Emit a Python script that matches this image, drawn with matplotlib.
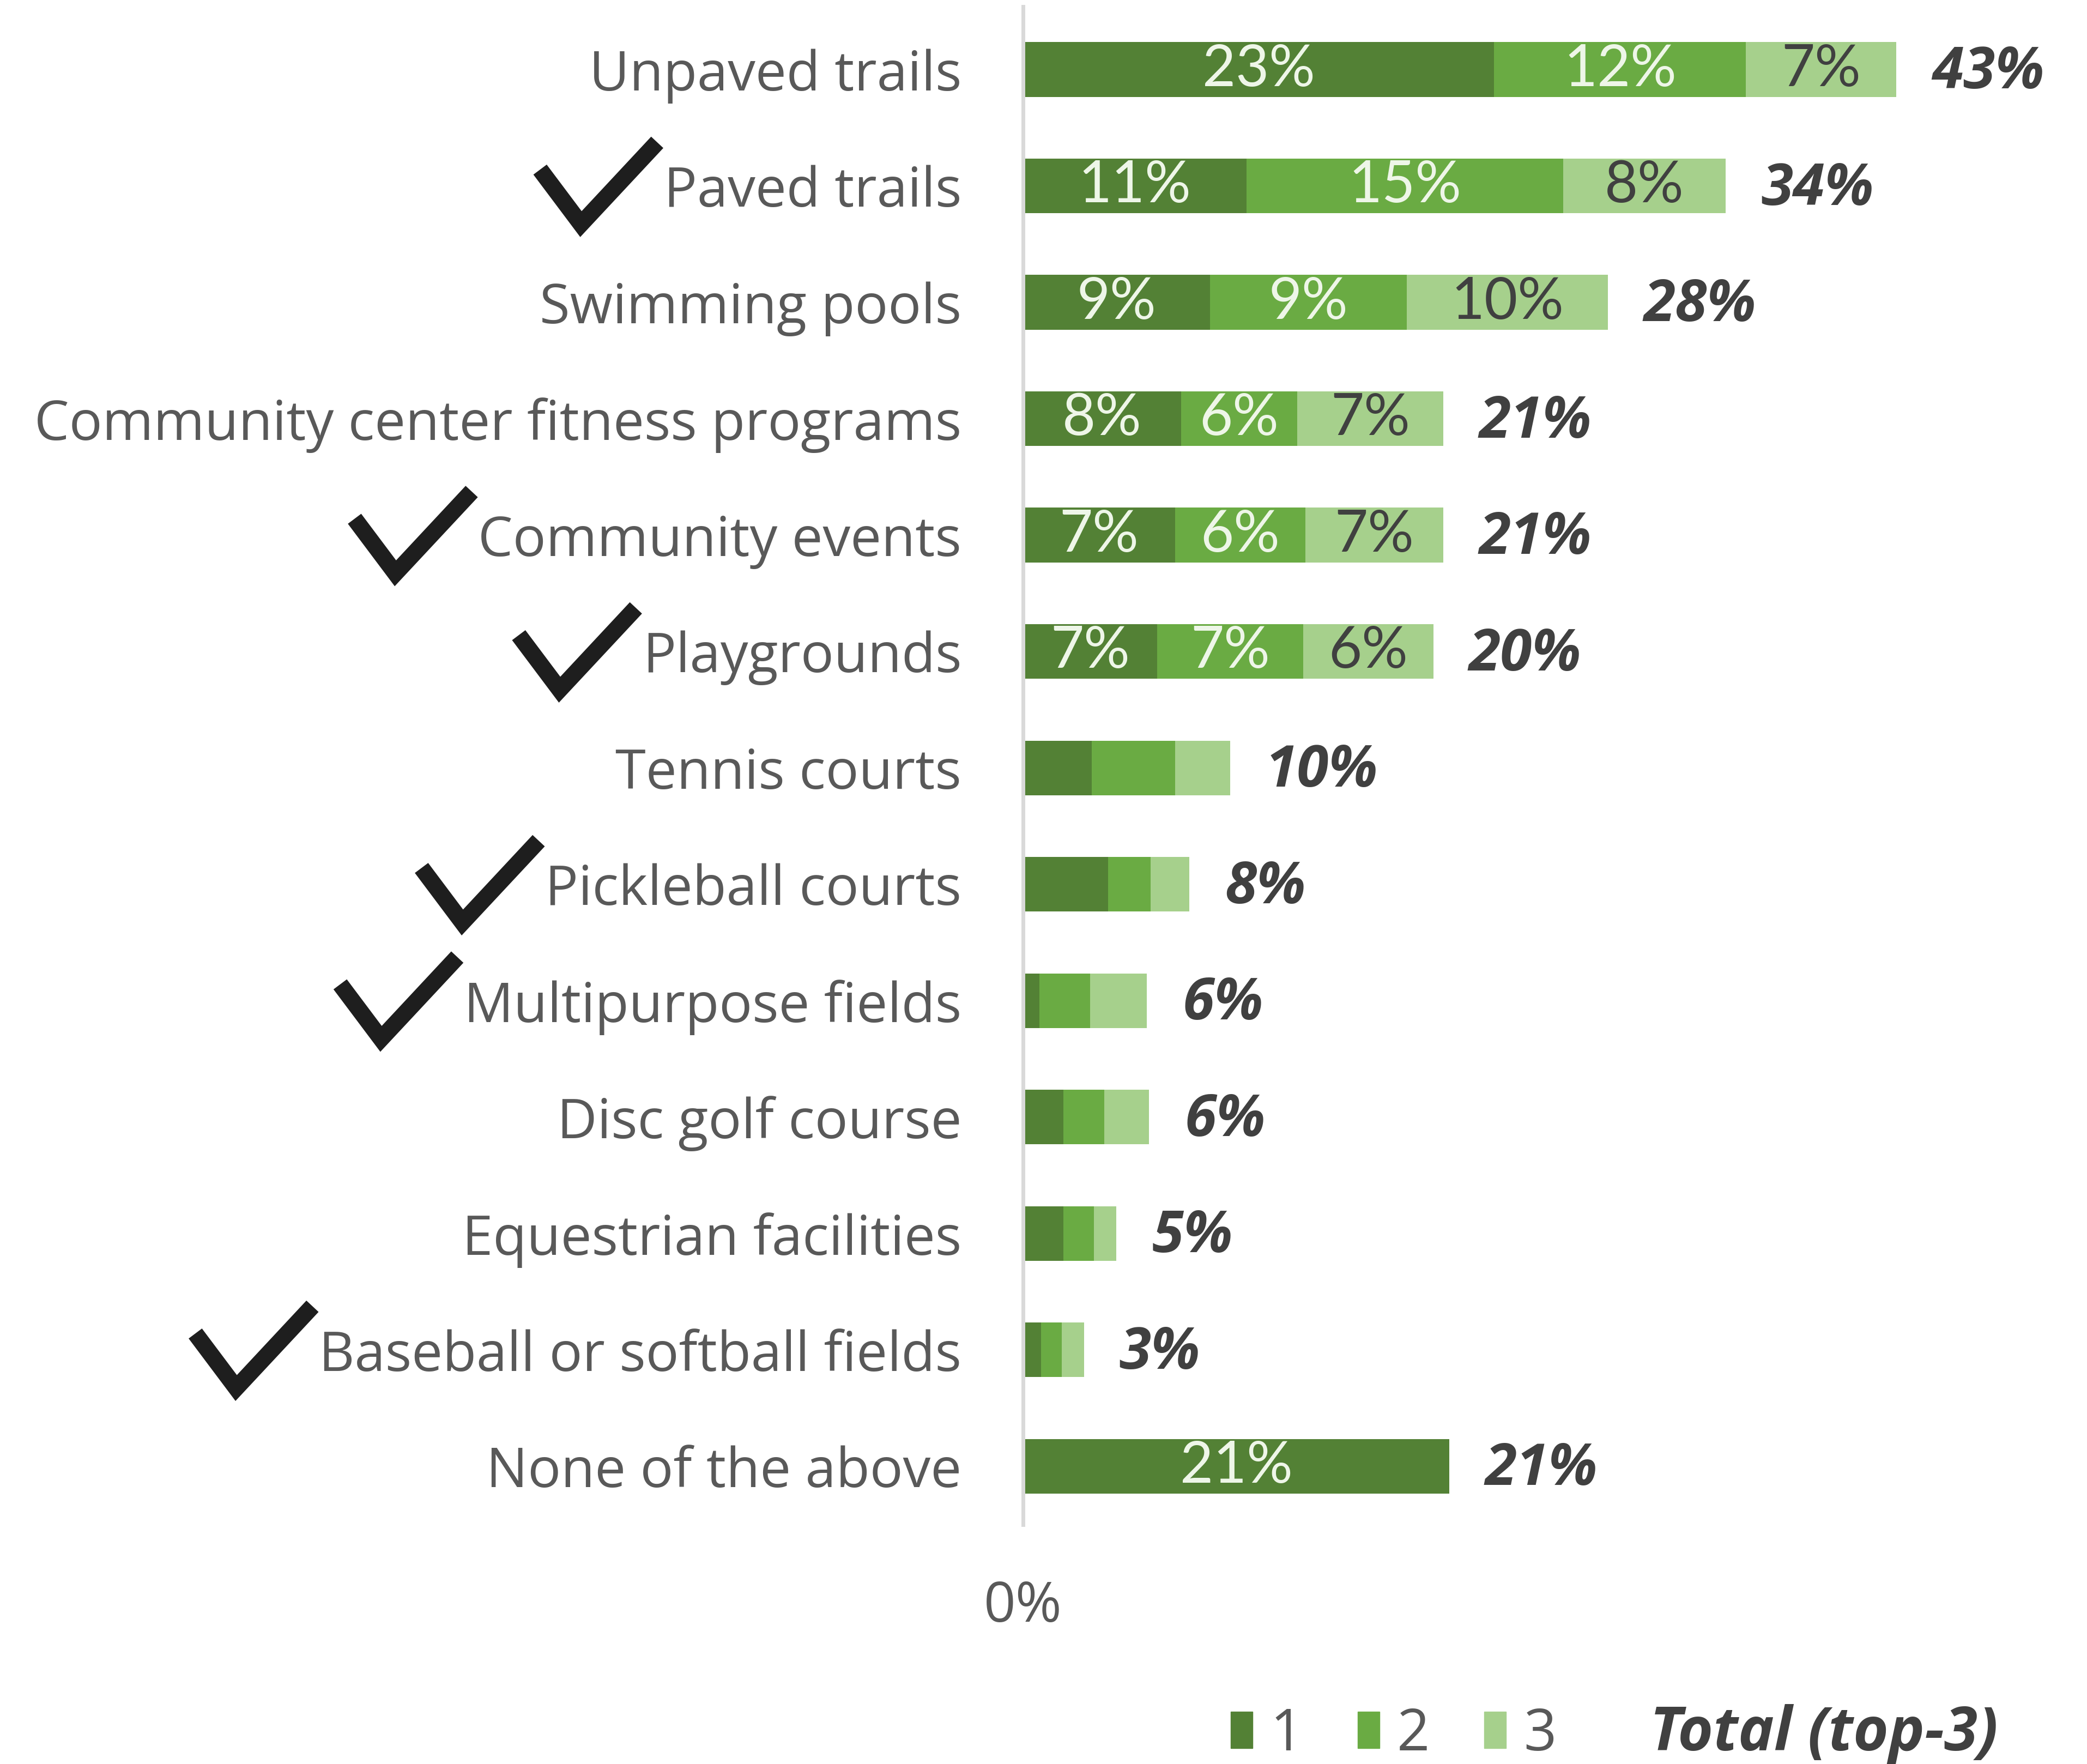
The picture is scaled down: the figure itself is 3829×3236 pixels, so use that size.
import matplotlib
matplotlib.use('Agg')
import matplotlib.pyplot as plt
from matplotlib.patches import Patch
from matplotlib.lines import Line2D

plt.rcParams['font.family'] = ['Open Sans', 'DejaVu Sans']

# data (percent of respondents, top-3 ranking)
categories = ['Unpaved trails', 'Paved trails', 'Swimming pools',
              'Community center fitness programs', 'Community events',
              'Playgrounds', 'Tennis courts', 'Pickleball courts',
              'Multipurpose fields', 'Disc golf course',
              'Equestrian facilities', 'Baseball or softball fields',
              'None of the above']
rank1 = [23.2, 11.0, 9.2, 7.8, 7.5, 6.6, 3.4, 4.2, 0.8, 2.0, 2.0, 0.9, 21.0]
rank2 = [12.4, 15.6, 9.7, 5.7, 6.4, 7.2, 4.1, 2.1, 2.5, 2.0, 1.5, 1.0, 0.0]
rank3 = [7.4, 8.0, 9.9, 7.2, 6.8, 6.4, 2.7, 1.9, 2.8, 2.2, 1.1, 1.1, 0.0]
rank1_labels = ['23%', '11%', '9%', '8%', '7%', '7%', '', '', '', '', '', '', '21%']
rank2_labels = ['12%', '15%', '9%', '6%', '6%', '7%', '', '', '', '', '', '', '']
rank3_labels = ['7%', '8%', '10%', '7%', '7%', '6%', '', '', '', '', '', '', '']
total_labels = ['43%', '34%', '28%', '21%', '21%', '20%', '10%', '8%', '6%',
                '6%', '5%', '3%', '21%']
checked = ['Paved trails', 'Community events', 'Playgrounds',
           'Pickleball courts', 'Multipurpose fields',
           'Baseball or softball fields']

c1, c2, c3 = '#538135', '#6aab43', '#a6d08c'
grey = '#595959'

fig = plt.figure(figsize=(38.3, 32.36), dpi=100)
ax = fig.add_axes([0.490, 0.1358, 0.506, 0.8604])

y = list(range(len(categories)))
bar_h = 0.47
left2 = [a for a in rank1]
left3 = [a + b for a, b in zip(rank1, rank2)]
ends = [a + b + c for a, b, c in zip(rank1, rank2, rank3)]

b1 = ax.barh(y, rank1, height=bar_h, color=c1, label='1')
b2 = ax.barh(y, rank2, left=left2, height=bar_h, color=c2, label='2')
b3 = ax.barh(y, rank3, left=left3, height=bar_h, color=c3, label='3')

inner_font = dict(family=['Lato', 'DejaVu Sans'], fontsize=76)
for bars, labs, col in [(b1, rank1_labels, '#eef6e8'),
                        (b2, rank2_labels, '#eef6e8'),
                        (b3, rank3_labels, '#404040')]:
    ax.bar_label(bars, labels=labs, label_type='center', color=col, **inner_font)

for yi, e, t in zip(y, ends, total_labels):
    ax.text(e + 1.75, yi + 0.03, t, ha='left', va='center', fontsize=76,
            fontweight='bold', fontstyle='italic', color='#404040')

ax.set_xlim(0, 52)
ax.set_ylim(12.5, -0.54)
ax.set_yticks(y)
ax.set_yticklabels(categories, fontsize=73, color=grey)
ax.set_xticks([0])
ax.set_xticklabels(['0%'], fontsize=74, color=grey)
ax.tick_params(axis='y', length=0, pad=81)
ax.tick_params(axis='x', length=0, pad=72)
for s in ['top', 'right', 'bottom']:
    ax.spines[s].set_visible(False)
ax.spines['left'].set_color('#d9d9d9')
ax.spines['left'].set_linewidth(5)

# legend
handles = [Patch(color=c1), Patch(color=c2), Patch(color=c3),
           Patch(color='none')]
leg = fig.legend(handles, ['1', '2', '3', 'Total (top-3)'], ncol=4,
                 loc='lower right', bbox_to_anchor=(0.982, -0.03),
                 frameon=False, fontsize=76, handlelength=0.38,
                 handleheight=0.6, handletextpad=0.3, columnspacing=0.95)
for t in leg.get_texts():
    t.set_color(grey)
leg.get_texts()[3].set_fontweight('bold')
leg.get_texts()[3].set_fontstyle('italic')
leg.get_texts()[3].set_color('#404040')
leg.get_texts()[3].set_fontsize(80)

# check marks in front of the highlighted labels
fig.canvas.draw()
W, H = fig.bbox.width, fig.bbox.height
for lab in ax.get_yticklabels():
    if lab.get_text() in checked:
        bb = lab.get_window_extent()
        yc = (bb.y0 + bb.y1) / 2
        tx = bb.x0 - 12
        ty = yc + 92
        xs = [tx - 215, tx - 140, tx]
        ys = [ty - 50, ty - 150, ty]
        fig.add_artist(Line2D([v / W for v in xs], [v / H for v in ys],
                              transform=fig.transFigure, color='#1e1e1e',
                              linewidth=22, solid_joinstyle='miter',
                              solid_capstyle='butt'))

fig.savefig('out.png', dpi=100)
